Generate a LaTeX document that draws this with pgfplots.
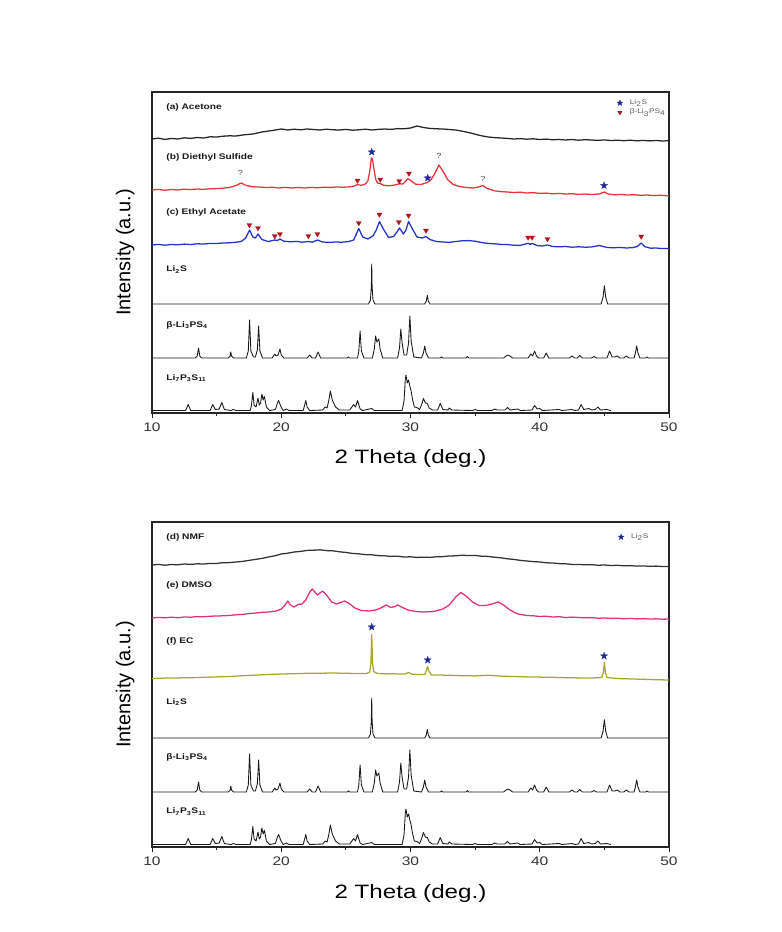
\documentclass[border=0pt]{standalone}
\usepackage{pgfplots}
\pgfplotsset{compat=1.18}
\usepackage{pgfplotstable}
\usepackage{fontspec}
\setmainfont{Liberation Sans}[FakeStretch=1.25]
\newfontfamily\ylabfont{Liberation Sans}

\definecolor{desred}{HTML}{E8323C}
\definecolor{eablue}{HTML}{2233CC}
\definecolor{dmsopink}{HTML}{E0307A}
\definecolor{ecolive}{HTML}{A8A828}
\definecolor{starblue}{HTML}{1C2A99}
\definecolor{trired}{HTML}{B0141E}
\definecolor{ticktext}{HTML}{333333}

\pgfdeclareplotmark{fstar}{%
 \pgfpathmoveto{\pgfpointpolar{90}{1\pgfplotmarksize}}%
 \pgfpathlineto{\pgfpointpolar{126}{0.42\pgfplotmarksize}}%
 \pgfpathlineto{\pgfpointpolar{162}{1\pgfplotmarksize}}%
 \pgfpathlineto{\pgfpointpolar{198}{0.42\pgfplotmarksize}}%
 \pgfpathlineto{\pgfpointpolar{234}{1\pgfplotmarksize}}%
 \pgfpathlineto{\pgfpointpolar{270}{0.42\pgfplotmarksize}}%
 \pgfpathlineto{\pgfpointpolar{306}{1\pgfplotmarksize}}%
 \pgfpathlineto{\pgfpointpolar{342}{0.42\pgfplotmarksize}}%
 \pgfpathlineto{\pgfpointpolar{18}{1\pgfplotmarksize}}%
 \pgfpathlineto{\pgfpointpolar{54}{0.42\pgfplotmarksize}}%
 \pgfpathclose\pgfusepathqfillstroke}

% ---------- reference patterns ----------
\pgfplotstableread[row sep=\\]{x y\\
10 109\\ 26.75 109\\ 26.9 113\\ 26.97 126\\ 27.0 149\\ 27.03 126\\ 27.1 113\\ 27.25 109\\
31.1 109\\ 31.22 112\\ 31.3 117.6\\ 31.38 112\\ 31.5 109\\
44.75 109\\ 44.9 116\\ 45.0 127.3\\ 45.1 116\\ 45.25 109\\ 50 109\\
}\lisTab

\pgfplotstableread[row sep=\\]{x y\\
10 55\\ 13.35 55\\ 13.5 57\\ 13.6 65\\ 13.7 57\\ 13.85 55\\
15.9 55\\ 16.05 57\\ 16.1 61\\ 16.15 57\\ 16.3 55\\
17.3 55\\ 17.45 62\\ 17.55 93\\ 17.65 62\\ 17.85 56\\ 18.0 56\\ 18.15 63\\ 18.25 87\\ 18.35 62\\ 18.55 55\\
19.3 55\\ 19.45 58\\ 19.5 59\\ 19.6 57\\ 19.75 58\\ 19.9 64\\ 20.0 58\\ 20.2 55\\
22.0 55\\ 22.2 58\\ 22.4 55\\ 22.65 55\\ 22.85 61\\ 23.05 55\\
25.1 55\\ 25.2 56\\ 25.3 55\\
25.9 55\\ 26.0 62\\ 26.1 82\\ 26.2 62\\ 26.4 55\\
27.05 55\\ 27.2 64\\ 27.3 77\\ 27.4 71\\ 27.55 74\\ 27.65 64\\ 27.85 55\\
29.0 55\\ 29.15 65\\ 29.25 84\\ 29.35 70\\ 29.5 58\\ 29.7 58\\ 29.85 70\\ 29.95 97\\ 30.05 72\\ 30.25 56\\
30.85 55\\ 31.0 60\\ 31.1 67\\ 31.2 60\\ 31.4 55\\
32.3 55\\ 32.4 56\\ 32.5 55\\ 34.3 55\\ 34.4 56.5\\ 34.5 55\\
37.2 55\\ 37.4 57\\ 37.5 58\\ 37.7 57\\ 37.9 55\\
39.1 55\\ 39.3 59\\ 39.45 57\\ 39.6 62\\ 39.75 57\\ 39.9 55\\
40.3 55\\ 40.5 60\\ 40.7 55\\
42.3 55\\ 42.5 57\\ 42.7 55\\ 42.9 55\\ 43.1 57.5\\ 43.3 55\\
44.0 55\\ 44.2 56.5\\ 44.4 55\\
45.2 55\\ 45.4 62\\ 45.6 56\\ 45.8 56\\ 46.0 57\\ 46.2 55\\ 46.5 55\\ 46.7 57\\ 46.9 55\\
47.3 55\\ 47.4 60\\ 47.5 67\\ 47.6 60\\ 47.75 55\\
48.2 55\\ 48.3 56\\ 48.4 55\\ 50 55\\
}\betaTab

\pgfplotstableread[row sep=\\]{x y\\
10 2.5\\ 12.6 2.5\\ 12.8 8.5\\ 13.0 2.5\\ 14.5 2.5\\ 14.7 8.5\\ 14.9 3.5\\ 15.2 4\\ 15.4 10.5\\ 15.6 3.5\\ 16.1 2.5\\ 16.3 3.5\\ 16.5 2.5\\
17.6 2.5\\ 17.7 8\\ 17.8 20.5\\ 17.9 8\\ 18.05 6\\ 18.2 15\\ 18.3 8\\ 18.4 10\\ 18.5 19\\ 18.6 13\\ 18.7 16.5\\ 18.85 6\\ 19.1 2.5\\
19.55 3.5\\ 19.7 10\\ 19.8 12.5\\ 19.95 7\\ 20.15 2.5\\ 20.4 4\\ 20.6 2.5\\
21.7 2.5\\ 21.85 10\\ 21.9 12.5\\ 22.0 6\\ 22.2 2.5\\
23.2 3\\ 23.4 6\\ 23.55 5\\ 23.7 14\\ 23.8 22\\ 23.95 13\\ 24.2 6\\ 24.5 3\\ 25.3 3\\ 25.6 8.5\\ 25.75 6\\ 25.9 12.5\\ 26.1 4\\ 26.3 2.5\\ 27.0 4.5\\ 27.2 2.5\\
29.35 2.5\\ 29.5 12\\ 29.6 34\\ 29.65 38\\ 29.75 30\\ 29.85 33\\ 29.95 27\\ 30.05 22\\ 30.15 14\\ 30.3 6\\ 30.5 5.5\\ 30.7 3.5\\ 30.85 8\\ 31.0 14.5\\ 31.15 10\\ 31.3 9.5\\ 31.45 5\\ 31.7 3\\
32.1 3\\ 32.3 9.5\\ 32.5 3.5\\ 32.9 3\\ 33.0 5\\ 33.2 3\\ 34.8 2.5\\ 35.0 3.5\\ 35.2 2.5\\ 36.3 2.5\\ 36.5 4\\ 36.7 3\\ 37.3 3\\ 37.5 5.5\\ 37.7 3\\ 38.3 4\\ 38.5 2.5\\
39.4 3\\ 39.6 7.5\\ 39.8 4\\ 40.0 4.5\\ 40.2 2.5\\ 41.5 3.5\\ 41.7 2.5\\ 42.5 3.5\\ 42.7 2.5\\ 43.0 3\\ 43.2 8.5\\ 43.4 3.5\\ 43.8 4.5\\ 44.0 3\\ 44.3 3.5\\ 44.5 6\\ 44.7 3\\ 45.2 3.5\\ 45.5 2.5\\
}\lpsTab

% ---------- measured patterns, top ----------
\pgfplotstableread[row sep=\\]{x y\\
10 274\\ 10.5 274.8\\ 11 273.6\\ 11.5 274.5\\ 12 274\\ 12.5 275.2\\ 13 274.6\\ 13.5 275.5\\ 14 275\\ 14.5 276.2\\ 15 276\\ 15.5 276.8\\ 16 277.2\\ 16.5 277\\ 17 278\\ 17.8 279\\ 18.5 281\\ 19.3 282.5\\ 20 284\\ 20.5 283\\ 21 283.8\\ 21.5 283.2\\ 22 284\\ 22.5 283.5\\ 23 283\\ 23.5 283.8\\ 24 283.2\\ 24.5 283\\ 25 283.6\\ 25.5 282.8\\ 26 283.2\\ 26.5 283.8\\ 27 283\\ 27.5 283.6\\ 28 284\\ 28.5 283.6\\ 29 284.4\\ 29.5 284.2\\ 30 285\\ 30.5 287\\ 31 285.5\\ 31.5 284.6\\ 32 284.2\\ 32.5 284\\ 33 283.5\\ 33.5 283\\ 34 281.8\\ 34.5 280.5\\ 35 278.8\\ 35.5 277.2\\ 36 276\\ 36.5 275.4\\ 37 275\\ 37.5 274.6\\ 38 274\\ 38.5 274.4\\ 39 273.8\\ 39.5 274.2\\ 40 273.5\\ 40.5 273.9\\ 41 273.2\\ 41.5 273.6\\ 42 273\\ 42.5 273.5\\ 43 272.8\\ 43.5 273.3\\ 44 273\\ 44.5 272.6\\ 45 273.1\\ 45.5 272.5\\ 46 272.8\\ 46.5 272.3\\ 47 272.8\\ 47.5 272.2\\ 48 272.6\\ 48.5 272.1\\ 49 272.5\\ 49.5 272\\ 50 272.3\\
}\aceTab

\pgfplotstableread[row sep=\\]{x y\\
10 223\\ 10.5 223.6\\ 11 222.8\\ 11.5 223.5\\ 12 223\\ 12.5 223.8\\ 13 223.4\\ 13.5 224\\ 14 223.6\\ 14.5 224.3\\ 15 224.4\\ 15.5 224.8\\ 16 225.5\\ 16.5 227.5\\ 16.9 230\\ 17.3 227.5\\ 17.8 226.2\\ 18.3 226\\ 18.8 225.4\\ 19.3 225.8\\ 19.8 225\\ 20.3 225.6\\ 20.8 225\\ 21.3 225.5\\ 21.8 225\\ 22.3 225.6\\ 22.8 225.2\\ 23.3 225.8\\ 23.8 225.6\\ 24.3 226\\ 24.8 225.8\\ 25.3 226.2\\ 25.6 226.8\\ 25.9 228.5\\ 26.2 227.6\\ 26.5 229\\ 26.7 232\\ 26.85 242\\ 26.97 255\\ 27.05 254\\ 27.15 246\\ 27.3 234\\ 27.45 230\\ 27.65 229.5\\ 27.9 227.8\\ 28.3 227.2\\ 28.7 227.8\\ 29.15 229.2\\ 29.4 229\\ 29.6 231.5\\ 29.8 234.5\\ 30.05 232\\ 30.4 228.8\\ 30.8 228.5\\ 31.3 230.5\\ 31.6 233.5\\ 31.9 240\\ 32.2 248\\ 32.5 242\\ 32.9 233\\ 33.3 228.5\\ 33.8 226.5\\ 34.3 225.5\\ 34.8 225\\ 35.2 225.8\\ 35.6 227.5\\ 35.9 224.8\\ 36.5 222.2\\ 37 221.4\\ 37.5 221\\ 38 220.5\\ 38.5 220.8\\ 39 220\\ 39.5 220.4\\ 40 219.6\\ 40.5 219.9\\ 41 219.2\\ 41.5 219.6\\ 42 219\\ 42.5 219.3\\ 43 218.6\\ 43.5 219\\ 44 218.5\\ 44.6 219\\ 45 221\\ 45.3 219\\ 45.8 218.2\\ 46.3 218.6\\ 46.8 218\\ 47.3 218.3\\ 47.8 217.6\\ 48.3 218\\ 48.8 217.4\\ 49.3 217.7\\ 50 217.2\\
}\desTab

\pgfplotstableread[row sep=\\]{x y\\
10 168\\ 10.5 168.6\\ 11 167.8\\ 11.5 168.5\\ 12 168.2\\ 12.5 168.9\\ 13 168.5\\ 13.5 169.2\\ 14 169\\ 14.5 169.6\\ 15 169.5\\ 15.5 170\\ 16 170.2\\ 16.5 170.8\\ 16.9 171.5\\ 17.25 175\\ 17.55 183\\ 17.8 176\\ 18.0 175\\ 18.2 179\\ 18.5 173.5\\ 19.0 171.5\\ 19.5 173\\ 19.7 172.5\\ 19.9 174\\ 20.2 171.8\\ 20.7 171.2\\ 21.2 171.6\\ 21.6 170.8\\ 22.1 171.5\\ 22.4 170.8\\ 22.8 173\\ 23.2 171\\ 23.7 170.6\\ 24.2 171\\ 24.7 170.8\\ 25.2 171.4\\ 25.6 173\\ 26.0 184.5\\ 26.3 176\\ 26.7 174\\ 27.1 177\\ 27.35 183\\ 27.6 191.5\\ 27.9 184\\ 28.3 175.5\\ 28.7 176.5\\ 28.95 181\\ 29.15 185\\ 29.45 179\\ 29.65 183\\ 29.85 191.5\\ 30.15 184\\ 30.5 176\\ 30.9 175\\ 31.2 176.5\\ 31.5 173.5\\ 32 171.5\\ 32.5 171\\ 33 170.6\\ 33.5 171.5\\ 34 172.2\\ 34.5 172.4\\ 35 171.8\\ 35.5 170.5\\ 36 169.6\\ 36.5 169.2\\ 37 168.6\\ 37.5 168.4\\ 38 167.8\\ 38.5 167.6\\ 39.1 169.8\\ 39.25 168.6\\ 39.4 169.6\\ 39.8 167.4\\ 40.2 167\\ 40.6 168\\ 41 166.5\\ 41.5 166.2\\ 42 166.5\\ 42.5 165.8\\ 43 166.2\\ 43.5 165.8\\ 44 166\\ 44.6 167.5\\ 45.2 165.6\\ 45.7 165.2\\ 46.2 165.6\\ 46.7 165\\ 47.2 165.4\\ 47.55 166.5\\ 47.85 170\\ 48.15 166.2\\ 48.6 164.8\\ 49 165\\ 49.5 164.4\\ 50 164.6\\
}\eaTab

% ---------- measured patterns, bottom ----------
\pgfplotstableread[row sep=\\]{x y\\
10 282\\ 10.5 282.6\\ 11 281.8\\ 11.5 282.5\\ 12 282.2\\ 12.5 283\\ 13 282.6\\ 13.5 283.2\\ 14 283\\ 14.5 283.6\\ 15 283.6\\ 15.5 284.3\\ 16 284.4\\ 16.5 285\\ 17 285.6\\ 17.5 286.6\\ 18 287.6\\ 18.5 288.6\\ 19 290\\ 19.5 291.2\\ 20 293\\ 20.5 293.8\\ 21 295\\ 21.5 295.6\\ 22 296.6\\ 22.5 296.8\\ 23 297.2\\ 23.5 296.4\\ 24 296.2\\ 24.5 295.2\\ 25 294.6\\ 25.5 293.6\\ 26 293.2\\ 26.5 292.4\\ 27 292.2\\ 27.5 291.4\\ 28 291.2\\ 28.5 290.6\\ 29 290.8\\ 29.5 290\\ 30 290.2\\ 30.5 289.6\\ 31 289.8\\ 31.5 289.6\\ 32 290.2\\ 32.5 290.4\\ 33 291\\ 33.5 291.2\\ 34 291.8\\ 34.5 291.4\\ 35 291.6\\ 35.5 290.8\\ 36 290.6\\ 36.5 289.8\\ 37 289.2\\ 37.5 288.2\\ 38 287.6\\ 38.5 286.6\\ 39 286\\ 39.5 285.4\\ 40 285\\ 40.5 284.2\\ 41 284\\ 41.5 283.4\\ 42 283.2\\ 42.5 282.6\\ 43 282.6\\ 43.5 282.2\\ 44 282.3\\ 44.5 281.8\\ 45 282\\ 45.5 281.5\\ 46 281.7\\ 46.5 281.2\\ 47 281.4\\ 47.5 280.9\\ 48 281.1\\ 48.5 280.7\\ 49 280.9\\ 49.5 280.5\\ 50 280.6\\
}\nmfTab

\pgfplotstableread[row sep=\\]{x y\\
10 229\\ 10.5 229.6\\ 11 229.2\\ 11.5 229.8\\ 12 229.3\\ 12.5 230\\ 13 229.8\\ 13.5 230.4\\ 14 230.2\\ 14.5 230.8\\ 15 231\\ 15.5 231.2\\ 16 231.6\\ 16.5 232.2\\ 17 232.6\\ 17.5 233.4\\ 18 234\\ 18.5 234.6\\ 19 235\\ 19.6 236\\ 20.0 238\\ 20.3 242\\ 20.5 246\\ 20.7 242\\ 21.0 240\\ 21.3 242.5\\ 21.6 243\\ 21.9 247\\ 22.2 255\\ 22.4 258\\ 22.6 255\\ 22.8 252\\ 23.0 254\\ 23.2 256\\ 23.5 252\\ 23.9 245\\ 24.3 243\\ 24.6 244.5\\ 24.9 246\\ 25.2 244\\ 25.7 239\\ 26.2 236.5\\ 26.8 236\\ 27.3 237\\ 27.7 239\\ 28.1 242\\ 28.5 239.5\\ 28.8 240.5\\ 29.0 242\\ 29.3 240\\ 29.8 237\\ 30.4 235.5\\ 31 235\\ 31.8 235.5\\ 32.5 238\\ 33.0 242\\ 33.5 250\\ 33.9 254.5\\ 34.3 251\\ 34.8 245\\ 35.3 241.5\\ 35.8 241.5\\ 36.3 243\\ 36.8 245\\ 37.2 242\\ 37.7 237\\ 38.3 233\\ 39 231.5\\ 39.5 231.2\\ 40 230.5\\ 40.5 230.8\\ 41 230\\ 41.5 230.3\\ 42 229.5\\ 42.5 229.9\\ 43 229.5\\ 43.5 229.2\\ 44 229.4\\ 44.5 228.8\\ 45 229\\ 45.5 228.6\\ 46 228.8\\ 46.5 228.3\\ 47 228.6\\ 47.5 228.1\\ 48 228.4\\ 48.5 227.9\\ 49 228.2\\ 49.5 227.8\\ 50 228\\
}\dmsoTab

\pgfplotstableread[row sep=\\]{x y\\
10 168.5\\ 11 168.9\\ 12 169.1\\ 13 169.3\\ 14 169.7\\ 15 170.1\\ 16 170.5\\ 17 171.3\\ 18 171.9\\ 19 172.5\\ 20 173\\ 21 173.3\\ 22 173.7\\ 23 173.8\\ 24 174\\ 25 173.7\\ 26 173.5\\ 26.6 173.5\\ 26.85 175\\ 26.94 184.5\\ 27.0 212.5\\ 27.06 184.5\\ 27.15 175.5\\ 27.4 173.7\\ 28 173.1\\ 28.5 173.3\\ 29 172.9\\ 29.6 173.1\\ 29.85 174.5\\ 30.1 172.9\\ 30.6 172.5\\ 31.1 172.5\\ 31.22 176\\ 31.32 180.5\\ 31.42 176\\ 31.6 172.1\\ 32 172.1\\ 33 171.7\\ 34 171.3\\ 35 171.1\\ 36 171.7\\ 37 170.9\\ 38 170.5\\ 39 170.1\\ 40 169.9\\ 41 169.7\\ 42 169.3\\ 43 169.1\\ 44 169\\ 44.8 169.5\\ 44.92 174.5\\ 45.0 184.5\\ 45.08 174.5\\ 45.2 169.5\\ 46 168.5\\ 47 168.1\\ 48 167.7\\ 49 167.3\\ 50 167\\
}\ecTab

\pgfplotsset{
  xrdaxis/.style={
    scale only axis, width=387.75pt,
    xmin=10, xmax=50, ymin=0,
    ytick=\empty,
    xtick={10,20,30,40,50}, minor xtick={15,25,35,45},
    xtick pos=bottom, tick align=outside,
    major tick length=3.75pt, minor tick length=2.25pt,
    axis line style={line width=0.9pt, black!85},
    every tick/.style={line width=0.7pt, black!85},
    /pgf/number format/assume math mode=true,
    xticklabel style={font=\fontsize{9.3}{10}\selectfont, text=ticktext, yshift=0pt},
    xlabel={2 Theta (deg.)},
    xlabel style={font=\fontsize{14.5}{16}\selectfont, at={(axis description cs:0.5,-0.142)}, anchor=center},
    ylabel={\ylabfont Intensity (a.u.)},
    ylabel style={font=\fontsize{15}{17}\selectfont, at={(axis description cs:-0.052,0.5)}, anchor=center},
    clip=false,
  },
  reftrace/.style={black!90, line width=0.65pt, line join=round},
  meas/.style={line width=0.95pt, line join=round},
  starm/.style={only marks, mark=fstar, mark size=2.8pt, mark options={fill=starblue, draw=starblue, line width=0.2pt}},
  trim/.style={only marks, mark=triangle*, mark size=2.2pt, mark options={rotate=180, fill=trired, draw=trired, line width=0.2pt}},
}
\tikzset{
  plab/.style={anchor=west, font=\fontsize{6.1}{7}\selectfont\bfseries, text=black!90},
  qm/.style={font=\fontsize{5.5}{6}\selectfont, text=black!70},
  legt/.style={anchor=west, font=\fontsize{5}{6}\selectfont, text=black!65},
}

\begin{document}
\begin{tikzpicture}
\path[use as bounding box] (0,0) rectangle (586.5pt,-699pt);

% ================= top panel =================
\begin{axis}[xrdaxis, height=240.75pt, ymax=321, at={(114pt,-69pt)}, anchor=north west]
\addplot[reftrace] table {\lpsTab};
\addplot[reftrace] table {\betaTab};
\addplot[reftrace] table {\lisTab};
\addplot[meas, eablue] table {\eaTab};
\addplot[meas, desred] table {\desTab};
\addplot[meas, black!85] table {\aceTab};
% markers, diethyl sulfide
\addplot[trim] coordinates {(25.9,232.5) (27.66,233.5) (29.13,232) (29.88,239.5)};
\addplot[starm] coordinates {(27.0,261) (31.33,235) (44.98,227.5)};
% markers, ethyl acetate
\addplot[trim] coordinates {(17.54,188) (18.2,185) (19.5,177) (19.9,179) (22.1,177) (22.8,179) (26.0,190) (27.6,198.5) (29.1,191) (29.85,197.5) (31.2,182.5) (39.1,175.5) (39.4,175.5) (40.6,174) (47.85,176.5)};
% legend
\addplot[starm, mark size=2.3pt] coordinates {(46.2,310)};
\addplot[trim, mark size=1.9pt] coordinates {(46.2,300.5)};
\node[legt] at (axis cs:46.6,310) {Li\textsubscript{2}S};
\node[legt] at (axis cs:46.6,300.5) {β-Li\textsubscript{3}PS\textsubscript{4}};
% question marks
\node[qm] at (axis cs:16.84,240) {?};
\node[qm] at (axis cs:32.2,257) {?};
\node[qm] at (axis cs:35.6,234.5) {?};
% labels
\node[plab] at (axis cs:10.75,306) {(a) Acetone};
\node[plab] at (axis cs:10.75,255.5) {(b) Diethyl Sulfide};
\node[plab] at (axis cs:10.75,200.5) {(c) Ethyl Acetate};
\node[plab] at (axis cs:10.75,143.5) {Li\textsubscript{2}S};
\node[plab] at (axis cs:10.75,88) {β-Li\textsubscript{3}PS\textsubscript{4}};
\node[plab] at (axis cs:10.75,34.6) {Li\textsubscript{7}P\textsubscript{3}S\textsubscript{11}};
\end{axis}

% ================= bottom panel =================
\begin{axis}[xrdaxis, height=243.75pt, ymax=325, at={(114pt,-391.5pt)}, anchor=north west]
\addplot[reftrace] table {\lpsTab};
\addplot[reftrace] table {\betaTab};
\addplot[reftrace] table {\lisTab};
\addplot[meas, ecolive] table {\ecTab};
\addplot[meas, dmsopink] table {\dmsoTab};
\addplot[meas, black!80] table {\nmfTab};
\addplot[starm] coordinates {(27.0,220) (31.33,187) (44.98,191)};
% legend
\addplot[starm, mark size=2.3pt] coordinates {(46.3,310)};
\node[legt] at (axis cs:46.7,310) {Li\textsubscript{2}S};
% labels
\node[plab] at (axis cs:10.75,310) {(d) NMF};
\node[plab] at (axis cs:10.75,261.5) {(e) DMSO};
\node[plab] at (axis cs:10.75,206) {(f) EC};
\node[plab] at (axis cs:10.75,145) {Li\textsubscript{2}S};
\node[plab] at (axis cs:10.75,89.5) {β-Li\textsubscript{3}PS\textsubscript{4}};
\node[plab] at (axis cs:10.75,35.5) {Li\textsubscript{7}P\textsubscript{3}S\textsubscript{11}};
\end{axis}
\end{tikzpicture}
\end{document}
